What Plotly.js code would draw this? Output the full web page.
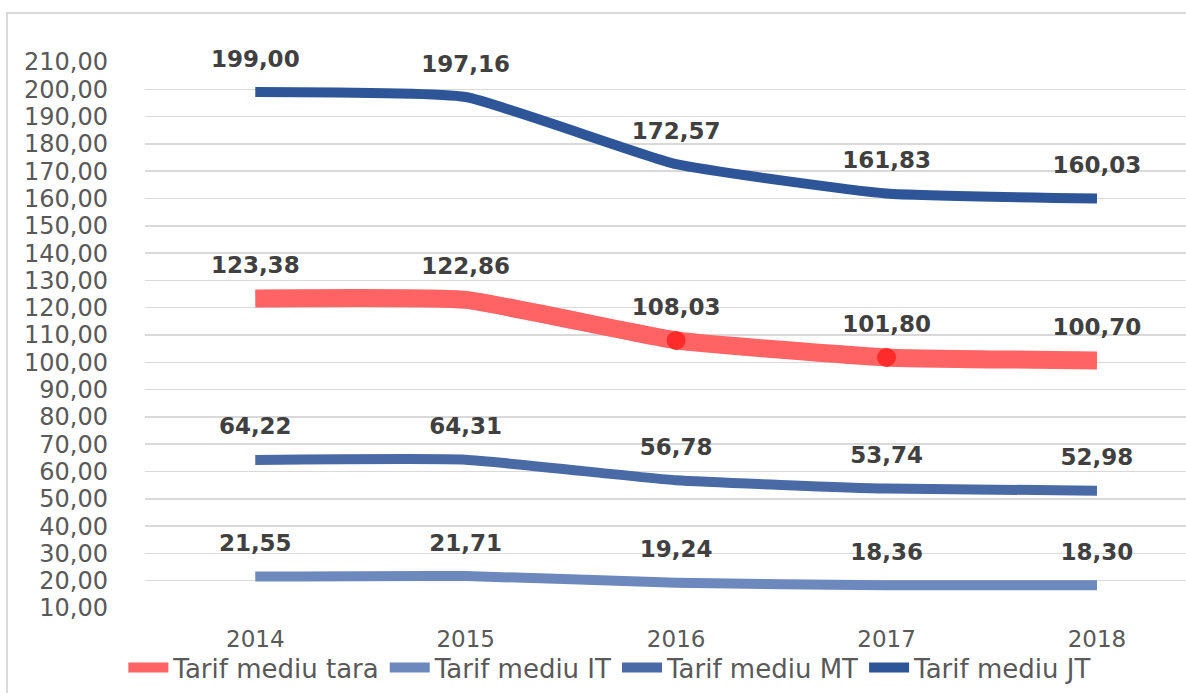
<!DOCTYPE html>
<html>
<head>
<meta charset="utf-8">
<script src="https://cdn.plot.ly/plotly-3.0.1.min.js"></script>
<style>
html,body{margin:0;padding:0;background:#fff;}
#chart{width:1186px;height:693px;}
</style>
</head>
<body>
<div id="chart"></div>
<script>
const years = ['2014', '2015', '2016', '2017', '2018'];
const tarifTara = [123.38, 122.86, 108.03, 101.80, 100.70];
const tarifIT = [21.55, 21.71, 19.24, 18.36, 18.30];
const tarifMT = [64.22, 64.31, 56.78, 53.74, 52.98];
const tarifJT = [199.00, 197.16, 172.57, 161.83, 160.03];
const seriesNames = ['Tarif mediu tara', 'Tarif mediu IT', 'Tarif mediu MT', 'Tarif mediu JT'];
const yTickVals = [10,20,30,40,50,60,70,80,90,100,110,120,130,140,150,160,170,180,190,200,210];
const highlightedYears = ['2016', '2017'];

const series = [tarifTara, tarifIT, tarifMT, tarifJT];
const colors = ['#ff6363', '#6c88bd', '#4a6aa6', '#2e5597'];
const widths = [18, 10, 10, 10];
const fmt = v => v.toFixed(2).replace('.', ',');

const traces = series.map((vals, k) => ({
  x: years, y: vals, name: seriesNames[k], type: 'scatter',
  mode: 'lines',
  line: {color: colors[k], width: widths[k], shape: 'spline', smoothing: 0.4},
  hoverinfo: 'skip'
}));

traces.push({
  x: highlightedYears,
  y: highlightedYears.map(y => tarifTara[years.indexOf(y)]),
  type: 'scatter', mode: 'markers', showlegend: false, hoverinfo: 'skip',
  marker: {color: '#ff2b2b', size: 19}
});

series.forEach(vals => {
  traces.push({
    x: years, y: vals, type: 'scatter', mode: 'markers+text',
    text: vals.map(fmt), textposition: 'top center',
    marker: {size: 30, opacity: 0},
    textfont: {family: 'DejaVu Sans', size: 23, color: '#404040', weight: 'bold'},
    showlegend: false, hoverinfo: 'skip', cliponaxis: false
  });
});

const layout = {
  width: 1186, height: 693,
  margin: {l: 145, r: 0, t: 62, b: 85},
  paper_bgcolor: '#ffffff', plot_bgcolor: '#ffffff',
  separators: ', ',
  showlegend: true,
  legend: {
    orientation: 'h', x: 0.447, xanchor: 'center', y: -0.066, yanchor: 'top',
    bgcolor: 'rgba(0,0,0,0)',
    font: {family: 'DejaVu Sans', size: 26, color: '#595959'},
    itemwidth: 40, traceorder: 'normal'
  },
  xaxis: {
    type: 'category', range: [-0.524, 4.423],
    showgrid: false, zeroline: false, showline: false, ticks: '',
    ticklabelstandoff: 15,
    tickfont: {family: 'DejaVu Sans', size: 23, color: '#595959'}
  },
  yaxis: {
    range: [10, 210], tickvals: yTickVals, tickformat: '.2f',
    showgrid: true, gridcolor: '#d9d9d9', gridwidth: 1.5,
    zeroline: false, showline: false, ticks: '',
    ticklabelstandoff: 36,
    tickfont: {family: 'DejaVu Sans', size: 24, color: '#595959'}
  },
  shapes: [{
    type: 'rect', xref: 'paper', yref: 'paper',
    x0: -0.1326, x1: 1.2, y0: -0.3, y1: 1.0897,
    line: {color: '#d9d9d9', width: 2}, fillcolor: 'rgba(0,0,0,0)', layer: 'below'
  }]
};

Plotly.newPlot('chart', traces, layout, {displayModeBar: false, staticPlot: true});
</script>
</body>
</html>
